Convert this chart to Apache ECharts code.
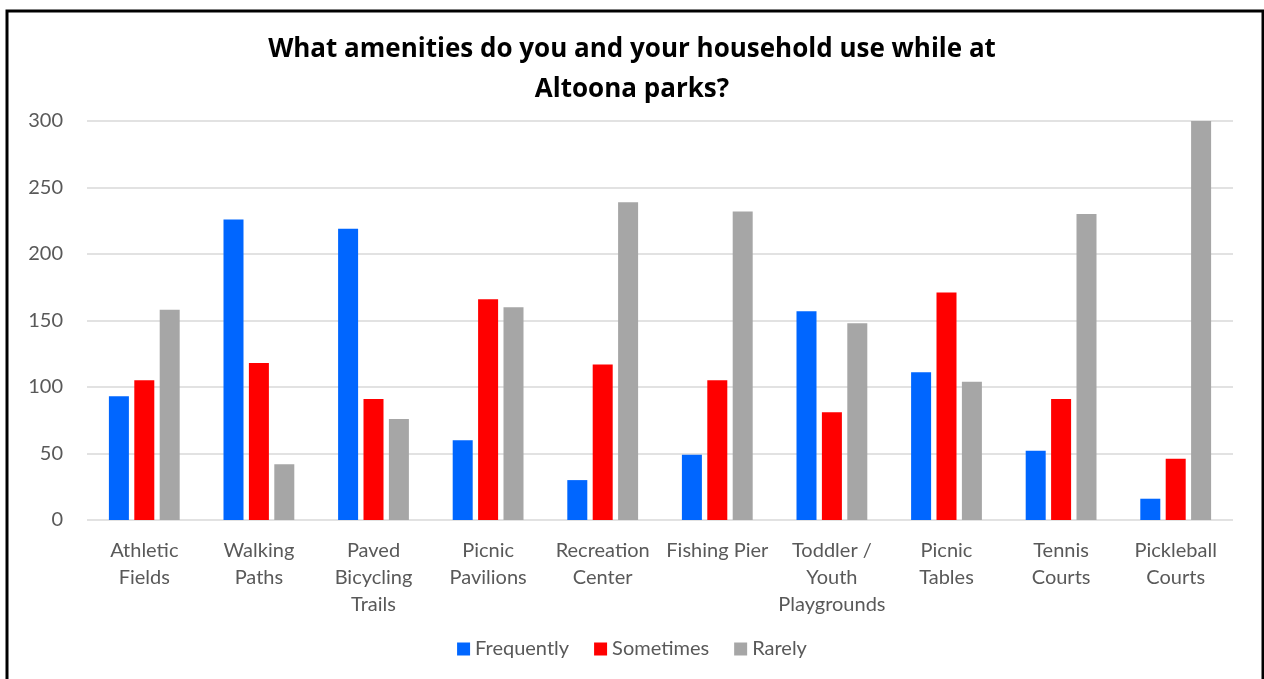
<!DOCTYPE html>
<html>
<head>
<meta charset="utf-8">
<script src="https://cdn.jsdelivr.net/npm/echarts@6/dist/echarts.min.js"></script>
<style>
  html, body { margin: 0; padding: 0; background: #fff; }
  #chart { width: 1264px; height: 679px; }
</style>
</head>
<body>
<div id="chart"></div>
<script>
const titleText = 'What amenities do you and your household use while at\nAltoona parks?';
const categories = [
  'Athletic\nFields',
  'Walking\nPaths',
  'Paved\nBicycling\nTrails',
  'Picnic\nPavilions',
  'Recreation\nCenter',
  'Fishing Pier',
  'Toddler /\nYouth\nPlaygrounds',
  'Picnic\nTables',
  'Tennis\nCourts',
  'Pickleball\nCourts'
];
const seriesNames = ['Frequently', 'Sometimes', 'Rarely'];
const frequently = [93, 226, 219, 60, 30, 49, 157, 111, 52, 16];
const sometimes  = [105, 118, 91, 166, 117, 105, 81, 171, 91, 46];
const rarely     = [158, 42, 76, 160, 239, 232, 148, 104, 230, 300];
const yTicks = { min: 0, max: 300, interval: 50 };

const colors = ['#0066FF', '#FF0000', '#A6A6A6'];
const FONT = 'Lato, "Open Sans", sans-serif';
const TITLE_FONT = '"Open Sans", Lato, sans-serif';

const chart = echarts.init(document.getElementById('chart'), null, { renderer: 'canvas' });
const dataSets = [frequently, sometimes, rarely];

chart.setOption({
  backgroundColor: '#fff',
  animation: false,
  color: colors,
  title: {
    text: titleText,
    left: 'center',
    top: 25,
    textStyle: { fontFamily: TITLE_FONT, fontSize: 26, fontWeight: 'bold', color: '#000', lineHeight: 40 }
  },
  legend: {
    bottom: 15,
    left: 'center',
    itemWidth: 13,
    itemHeight: 13,
    itemGap: 25,
    icon: 'rect',
    textStyle: { fontFamily: FONT, fontSize: 20, color: '#595959' },
    data: seriesNames
  },
  grid: { left: 87, right: 31, top: 121, bottom: 159, containLabel: false },
  xAxis: {
    type: 'category',
    data: categories,
    axisLine: { show: false },
    axisTick: { show: false },
    axisLabel: {
      interval: 0,
      margin: 17,
      fontFamily: FONT,
      fontSize: 20,
      color: '#595959',
      lineHeight: 27
    }
  },
  yAxis: {
    type: 'value',
    min: yTicks.min,
    max: yTicks.max,
    interval: yTicks.interval,
    axisLine: { show: false },
    axisTick: { show: false },
    axisLabel: { margin: 24, fontFamily: FONT, fontSize: 20, color: '#595959' },
    splitLine: { lineStyle: { color: '#d9d9d9', width: 1.5 } }
  },
  graphic: [{
    type: 'rect',
    shape: { x: 7, y: 11, width: 1256, height: 700 },
    style: { fill: 'none', stroke: '#000', lineWidth: 3 },
    silent: true,
    z: 100
  }],
  series: seriesNames.map((name, i) => ({
    name: name,
    type: 'bar',
    data: dataSets[i],
    barWidth: 20,
    barGap: '27%',
    itemStyle: { color: colors[i] }
  }))
});
</script>
</body>
</html>
